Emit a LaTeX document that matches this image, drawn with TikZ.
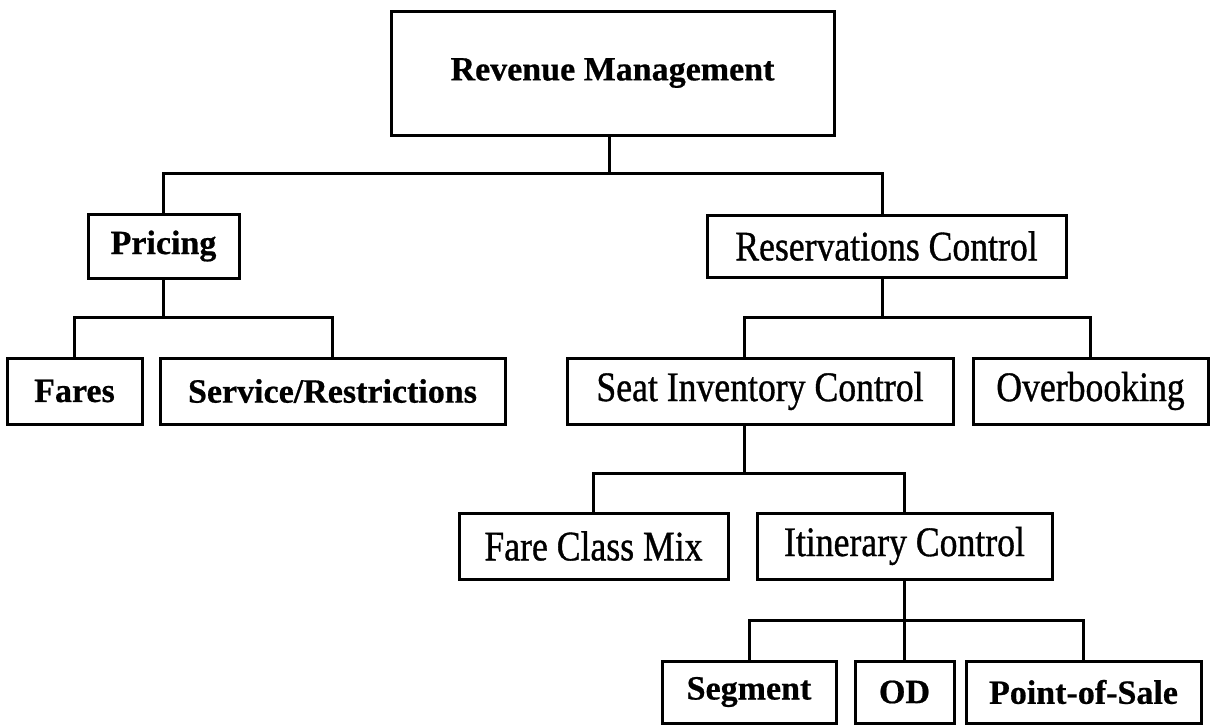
\documentclass[tikz,border=0pt]{standalone}
\usepackage{fontspec}
\setmainfont{Liberation Serif}
\newfontfamily\condserif[FakeStretch=0.85,FakeBold=0.8]{Liberation Serif}
\newfontfamily\boldserif[FakeBold=0.6]{Liberation Serif Bold}
\begin{document}
\begin{tikzpicture}[x=1pt,y=-1pt,
  box/.style={draw, line width=3pt, rectangle, inner sep=0pt, align=center},
  boldtxt/.style={font=\boldserif\fontsize{34}{40}\selectfont},
  regtxt/.style={font=\condserif\fontsize{42}{48}\selectfont},
  link/.style={line width=3pt, line join=miter}]
\useasboundingbox (0,0) rectangle (1223,726);
\fill[white] (0,0) rectangle (1223,726);

% nodes
\node[box, boldtxt, minimum width=443pt, minimum height=124pt] (rev) at (612.5,73) {Revenue Management};
\node[box, boldtxt, minimum width=151pt, minimum height=64pt] (pri) at (163.5,246) {Pricing};
\node[box, regtxt, minimum width=359pt, minimum height=62pt] (res) at (886.5,246) {Reservations Control};
\node[box, boldtxt, minimum width=135pt, minimum height=66pt] (far) at (74.5,391) {Fares};
\node[box, boldtxt, minimum width=345pt, minimum height=66pt] (ser) at (332.5,391) {Service/Restrictions};
\node[box, regtxt, minimum width=386pt, minimum height=66pt] (sic) at (760,391) {Seat Inventory Control};
\node[box, regtxt, minimum width=235pt, minimum height=66pt] (ovb) at (1090.5,391) {Overbooking};
\node[box, regtxt, minimum width=269pt, minimum height=66pt] (fcm) at (593.5,546) {Fare Class Mix};
\node[box, regtxt, minimum width=295pt, minimum height=66pt] (itc) at (904.5,546) {Itinerary Control};
\node[box, boldtxt, minimum width=174pt, minimum height=62pt] (seg) at (749,692) {Segment};
\node[box, boldtxt, minimum width=99pt, minimum height=62pt] (od) at (904.5,692) {OD};
\node[box, boldtxt, minimum width=235pt, minimum height=62pt] (pos) at (1083.5,692) {Point-of-Sale};

% junctions
\coordinate (jA) at (609,173);
\coordinate (jB) at (163.5,317);
\coordinate (jC) at (882,317);
\coordinate (jD) at (744,473);
\coordinate (jE) at (904.5,620);

% connectors
\draw[link] (rev.south -| jA) -- (jA);
\draw[link] (pri.north) |- (jA) -| (res.north -| jC);
\draw[link] (pri.south) -- (jB);
\draw[link] (far.north) |- (jB) -| (ser.north);
\draw[link] (res.south -| jC) -- (jC);
\draw[link] (sic.north -| jD) |- (jC) -| (ovb.north);
\draw[link] (sic.south -| jD) -- (jD);
\draw[link] (fcm.north) |- (jD) -| (itc.north);
\draw[link] (itc.south) -- (jE);
\draw[link] (seg.north) |- (jE) -| (pos.north);
\draw[link] (od.north) -- (jE);
\end{tikzpicture}
\end{document}
